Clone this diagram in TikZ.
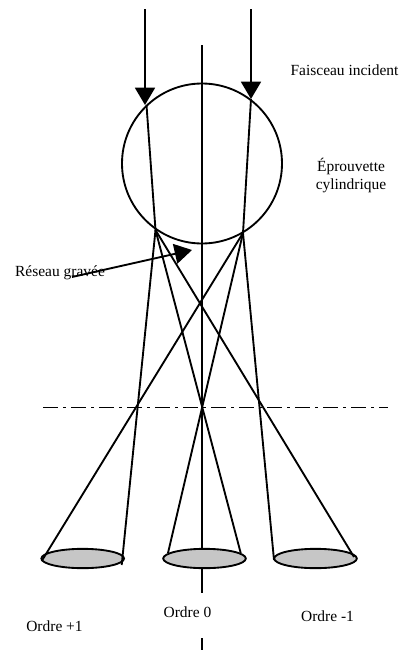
\documentclass[tikz,border=0pt]{standalone}
\usepackage{fontspec}
\setmainfont{Liberation Serif}
\usetikzlibrary{shapes.geometric,positioning,arrows.meta}

\begin{document}
\begin{tikzpicture}[
    x=0.75pt, y=-0.75pt,
    ray/.style={line width=1.4pt},
    incident/.style={line width=1.4pt, -{Triangle[length=13pt, width=15pt]}},
    disc/.style={ellipse, draw, line width=1.4pt, fill=gray!45!white, minimum width=62pt, minimum height=14.5pt, inner sep=0pt},
    label/.style={font=\fontsize{11.6}{13.5}\selectfont, align=center, inner sep=0pt},
]
\useasboundingbox (0,0) rectangle (400,650);

% Cylindrical specimen
\node[circle, draw, line width=1.4pt, minimum size=120pt, inner sep=0pt] (specimen) at (202,163.5) {};

% Optical axis
\coordinate (axistop) at (202,45);
\coordinate (axisgap) at (202,592.5);
\coordinate (axisresume) at (202,638);
\coordinate (axisend) at (202,650);
\draw[ray] (axistop) -- (axisgap);
\draw[ray] (axisresume) -- (axisend);

% Observation plane
\coordinate (planeleft) at (43,407.5);
\coordinate (planeright) at (388,407.5);
\draw[line width=1.4pt, dash pattern=on 11.5pt off 3.5pt on 2.5pt off 3.5pt] (planeleft) -- (planeright);

% Diffraction orders
\node[disc] (discplus) at (82.7,558.5) {};
\node[disc] (disczero) at (204.5,558.5) {};
\node[disc] (discminus) at (315.5,558.5) {};

% Incident beam
\coordinate (beamleft) at (145,9);
\coordinate (beamright) at (251,9);
\coordinate (entryleft) at (146.5,105);
\coordinate (entryright) at (251,99);
\coordinate (exitleft) at (155.5,230);
\coordinate (exitright) at (243,233);
\draw[incident] (beamleft) -- (145,105);
\draw[incident] (beamright) -- (entryright);
\draw[ray] (entryleft) -- (exitleft);
\draw[ray] (entryright) -- (exitright);

% Diffracted rays
\coordinate (plusleft) at (41.7,561);
\coordinate (plusright) at (121.7,565);
\coordinate (zeroleft) at (168,553);
\coordinate (zeroright) at (240.7,553);
\coordinate (minusleft) at (274,560);
\coordinate (minusright) at (354,557);
\draw[ray] (exitleft) -- (plusright);
\draw[ray] (exitleft) -- (zeroright);
\draw[ray] (exitleft) -- (minusright);
\draw[ray] (exitright) -- (plusleft);
\draw[ray] (exitright) -- (zeroleft);
\draw[ray] (exitright) -- (minusleft);

% Labels
\node[label] (faisceau) at (344.5,70) {Faisceau incident};
\node[label] (eprouvette) at (351,176) {Éprouvette\\cylindrique};
\node[label] (reseau) at (60,273) {Réseau gravée};
\node[label] (ordreplus) at (54.5,626.5) {Ordre +1};
\node[label] (ordrezero) at (187.5,612.5) {Ordre 0};
\node[label] (ordreminus) at (327.5,616.5) {Ordre -1};

% Grating pointer
\coordinate (gratingtip) at (192,250);
\draw[line width=1.4pt, -{Triangle[length=13pt, width=15pt]}] (72,277) -- (gratingtip);

\end{tikzpicture}
\end{document}
